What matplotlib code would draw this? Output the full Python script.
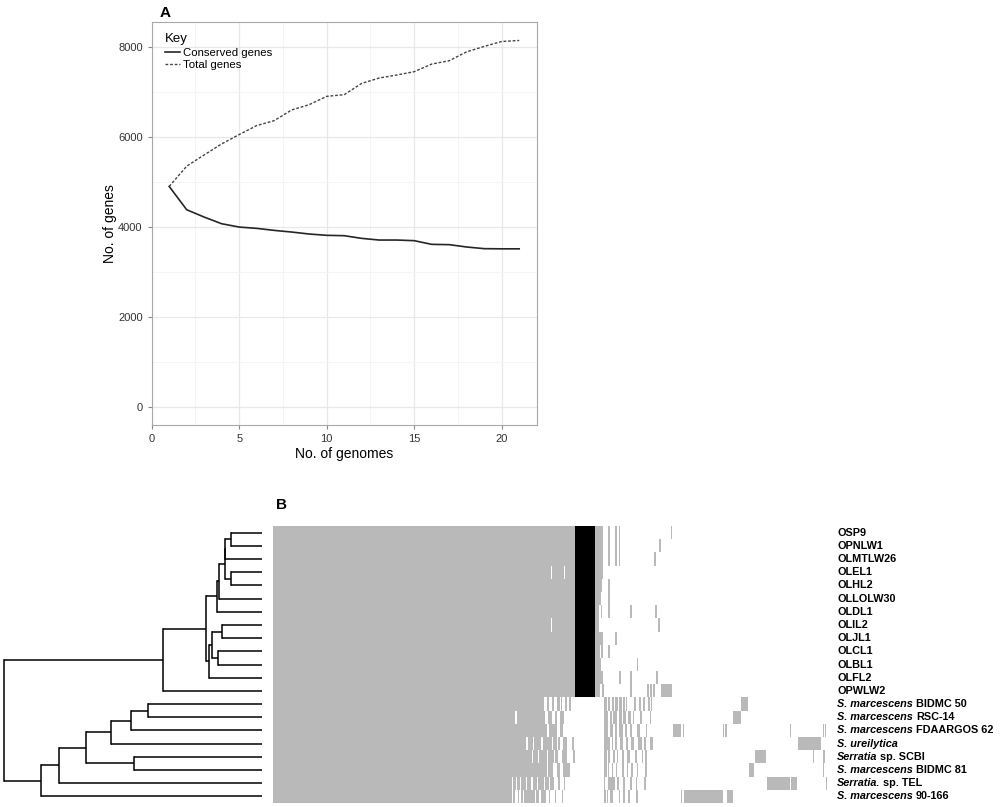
import matplotlib
matplotlib.use("Agg")
import matplotlib.pyplot as plt

plt.rcParams['font.family'] = ['Liberation Sans', 'DejaVu Sans']

# ---------------- Panel A data ----------------
n_genomes = list(range(1, 22))
conserved_genes = [4905, 4386, 4222, 4074, 4000, 3971, 3926, 3889, 3845, 3816, 3808,
                   3748, 3711, 3711, 3697, 3615, 3608, 3556, 3519, 3515, 3515]
total_genes = [4905, 5356, 5607, 5852, 6060, 6260, 6370, 6608, 6726, 6911, 6948,
               7200, 7319, 7386, 7460, 7630, 7704, 7904, 8022, 8133, 8155]
x_ticks = [0, 5, 10, 15, 20]
y_ticks = [0, 2000, 4000, 6000, 8000]

# ---------------- Panel B data ----------------
# (italic part, bold part)
strain_labels = [
    ("", "OSP9"), ("", "OPNLW1"), ("", "OLMTLW26"), ("", "OLEL1"), ("", "OLHL2"),
    ("", "OLLOLW30"), ("", "OLDL1"), ("", "OLIL2"), ("", "OLJL1"), ("", "OLCL1"),
    ("", "OLBL1"), ("", "OLFL2"), ("", "OPWLW2"),
    ("S. marcescens", "BIDMC 50"), ("S. marcescens", "RSC-14"),
    ("S. marcescens", "FDAARGOS 62"), ("S. ureilytica", ""),
    ("Serratia", "sp. SCBI"), ("S. marcescens", "BIDMC 81"),
    ("Serratia.", "sp. TEL"), ("S. marcescens", "90-166"),
]

# dendrogram merges (child a, child b, relative height); new nodes numbered from 21
tree_merges = [
    (0, 1, 0.119), (21, 2, 0.142), (3, 4, 0.119), (22, 23, 0.144), (24, 5, 0.166),
    (25, 6, 0.175), (7, 8, 0.155), (9, 10, 0.168), (27, 28, 0.194), (29, 11, 0.204),
    (26, 30, 0.216), (31, 12, 0.382), (13, 14, 0.442), (33, 15, 0.507), (34, 16, 0.586),
    (17, 18, 0.494), (35, 36, 0.683), (37, 19, 0.787), (38, 20, 0.858), (32, 39, 1.0),
]

n_bins = 555  # binned gene clusters along the heatmap

# presence intervals (start, end) in gene-cluster bins, per strain
presence_blocks = [
    [(0, 302), (321.5, 330)],
    [(0, 302), (321.5, 330)],
    [(0, 302), (321.5, 330)],
    [(0, 277.5), (279, 290.5), (292, 302), (321.5, 330)],
    [(0, 302), (321.5, 329)],
    [(0, 302), (321.5, 328)],
    [(0, 302), (321.5, 326), (327.5, 328.5)],
    [(0, 277.5), (279, 302), (321.5, 326)],
    [(0, 302), (321.5, 330)],
    [(0, 302), (321.5, 327), (328, 329.5)],
    [(0, 302), (321.5, 328)],
    [(0, 302), (321.5, 330)],
    [(0, 302), (321.5, 327), (328.5, 330.5), (388, 398.7)],
    [(0, 271.3), (273.7, 276.3), (279.3, 281.3), (283.7, 287), (288.3, 289.3), (292, 293.7),
     (296, 298), (331.3, 333.7), (335.3, 337), (339, 340.7), (342.3, 344.7), (346.3, 348.7),
     (350.3, 352), (361, 363), (370.3, 372), (468, 475.3)],
    [(0, 242), (243.5, 272), (275.3, 278.7), (282, 283.7), (287, 291), (331.3, 335.3),
     (337, 338.7), (340.3, 343.7), (346.3, 348.7), (350.3, 352.7), (355.3, 357.7),
     (367, 368.7), (460.3, 467.7)],
    [(0, 273.5), (276.3, 284.3), (287, 290), (331.3, 335.3), (337, 340.3), (342, 343.7),
     (346.3, 349.7), (352, 353.7), (357, 358.7), (363.7, 367), (373, 374.3), (399.7, 407.7)],
    [(0, 253.3), (254.7, 260), (261.3, 268.3), (269.7, 278.7), (280.3, 283.5), (284.7, 287),
     (290.3, 293.7), (299.3, 301.3), (331.3, 337), (338.7, 340.3), (342, 344.3), (347, 350.3),
     (352.7, 355.3), (357.7, 361), (365.3, 368.7), (377, 380.3), (524.7, 540.3), (541.3, 547.7)],
    [(0, 259), (260.3, 264.7), (266, 273.5), (275, 280.5), (282, 284.5), (288.7, 293.7),
     (300.3, 302), (331.3, 333.7), (334.7, 337), (339.7, 342), (344.3, 345.3), (348.7, 351),
     (353.7, 357), (362, 363.7), (368.7, 370.3), (372, 373.7), (482, 493)],
    [(0, 273.7), (275.3, 280.3), (283.7, 287), (290.3, 297), (331.3, 333.7), (334.7, 336.3),
     (338.7, 340.3), (343, 344.3), (348.7, 351), (353.7, 355.3), (357.7, 360.3), (363.7, 365.3),
     (372, 373.7), (476, 481.3)],
    [(0, 238.7), (240.3, 243), (244.3, 247), (248.3, 253), (254.3, 258), (259.5, 264),
     (265.3, 270.7), (272, 276), (277.3, 281), (285.3, 286.5), (290.7, 292), (331.3, 332),
     (335.3, 342), (344.3, 346.3), (350.3, 352), (357, 358.7), (363, 364.3), (493.7, 517),
     (518, 523.7)],
    [(0, 238.7), (240.3, 242), (244.7, 246.3), (248, 250), (251.3, 262), (263.3, 266),
     (268, 272.5), (275.7, 277.3), (282, 283.3), (289, 290.3), (331.3, 333), (333.7, 335.3),
     (337, 340.3), (345.7, 347.3), (350.3, 352), (355.3, 357), (363.3, 365), (408, 409.3),
     (411, 450.3), (454.3, 460.3)],
]

# single gene-cluster presences (bin positions), per strain
presence_singles = [
    [336, 343, 346.3, 398.7],
    [336, 343, 346.3, 387],
    [336, 343, 346.3, 382],
    [],
    [336],
    [336],
    [336, 358, 383],
    [386],
    [343],
    [336],
    [364.7],
    [347, 358, 384],
    [358, 375, 378, 381],
    [288.7, 353.7, 367, 376, 378.7],
    [360.3, 377.7],
    [410.3, 450.3, 453, 517.7, 550.3, 552.5],
    [372, 540.3],
    [540.3, 551],
    [550.5],
    [372, 553.7],
    [],
]

# gene clusters specific to the OL clade (black block)
clade_block = (302, 321.5)
clade_members = 13

GRAY = '#b9b9b9'
SINGLE_W = 1.3

fig = plt.figure(figsize=(10, 8.07), dpi=100)

# ---------------- Panel A ----------------
axA = fig.add_axes([0.1517, 1 - 425 / 807, 0.385, 402.7 / 807])
axA.set_xlim(0, 22)
axA.set_ylim(-408, 8560)
axA.set_xticks(x_ticks)
axA.set_yticks(y_ticks)
axA.set_xticks([2.5, 7.5, 12.5, 17.5], minor=True)
axA.set_yticks([1000, 3000, 5000, 7000], minor=True)
axA.grid(which='major', color='#e8e8e8', lw=0.9)
axA.grid(which='minor', color='#f4f4f4', lw=0.6)
axA.set_axisbelow(True)
for s in axA.spines.values():
    s.set_color('#a8a8a8')
    s.set_linewidth(0.8)
axA.tick_params(which='major', length=3, color='#888888', labelsize=8, labelcolor='#333333')
axA.tick_params(which='minor', length=0)
axA.plot(n_genomes, conserved_genes, color='#262626', lw=1.2, label='Conserved genes')
axA.plot(n_genomes, total_genes, color='#444444', lw=1.0, dashes=(2, 1.3), label='Total genes')
axA.set_xlabel('No. of genomes', fontsize=10, labelpad=2)
axA.set_ylabel('No. of genes', fontsize=10, labelpad=1)
leg = axA.legend(title='Key', loc='upper left', bbox_to_anchor=(0.01, 0.995), frameon=False,
                 fontsize=8.2, title_fontsize=9.5, handlelength=1.35, handletextpad=0.25,
                 labelspacing=0.2, borderpad=0.3)
leg._legend_box.align = 'left'
fig.text(0.160, 0.984, 'A', fontsize=11, fontweight='bold', ha='left', va='center')

# ---------------- Panel B heatmap ----------------
n_rows = len(strain_labels)
hm_bottom = 1 - 803 / 807
hm_height = 277 / 807
axH = fig.add_axes([0.273, hm_bottom, 0.555, hm_height])
axH.set_xlim(0, n_bins)
axH.set_ylim(n_rows, 0)
axH.axis('off')
for i in range(n_rows):
    segs = [(s, e - s) for s, e in presence_blocks[i]]
    segs += [(p - SINGLE_W / 2, SINGLE_W) for p in presence_singles[i]]
    axH.broken_barh(segs, (i, 1), facecolors=GRAY, edgecolor='none', linewidth=0)
    if i < clade_members:
        axH.broken_barh([(clade_block[0], clade_block[1] - clade_block[0])], (i, 1),
                        facecolors='black', edgecolor='none', linewidth=0)

for i, (it, bd) in enumerate(strain_labels):
    y = i + 0.5
    if it:
        t1 = axH.annotate(it, xy=(1, y), xycoords=('axes fraction', 'data'),
                          xytext=(6.5, 0), textcoords='offset points', ha='left', va='center',
                          fontsize=7.8, fontweight='bold', fontstyle='italic',
                          annotation_clip=False)
        if bd:
            axH.annotate(bd, xy=(1, 0.5), xycoords=t1, xytext=(2.2, 0),
                         textcoords='offset points', ha='left', va='center',
                         fontsize=7.8, fontweight='bold', annotation_clip=False)
    else:
        axH.annotate(bd, xy=(1, y), xycoords=('axes fraction', 'data'),
                     xytext=(6.5, 0), textcoords='offset points', ha='left', va='center',
                     fontsize=7.8, fontweight='bold', annotation_clip=False)

fig.text(0.2817, 1 - 505 / 807, 'B', fontsize=11, fontweight='bold', ha='center', va='center')

# ---------------- Panel B dendrogram ----------------
axD = fig.add_axes([0.0, hm_bottom, 0.2617, hm_height])
axD.set_xlim(1.0155, 0)
axD.set_ylim(n_rows, 0)
axD.axis('off')
node_y = {i: i + 0.5 for i in range(n_rows)}
node_h = {i: 0.0 for i in range(n_rows)}
for k, (a, b, h) in enumerate(tree_merges):
    nid = n_rows + k
    for c in (a, b):
        axD.plot([node_h[c], h], [node_y[c], node_y[c]], color='black', lw=1.1,
                 solid_capstyle='butt', clip_on=False)
    axD.plot([h, h], [node_y[a], node_y[b]], color='black', lw=1.1,
             solid_capstyle='projecting', clip_on=False)
    node_y[nid] = (node_y[a] + node_y[b]) / 2
    node_h[nid] = h

fig.savefig('out.png', dpi=100)
